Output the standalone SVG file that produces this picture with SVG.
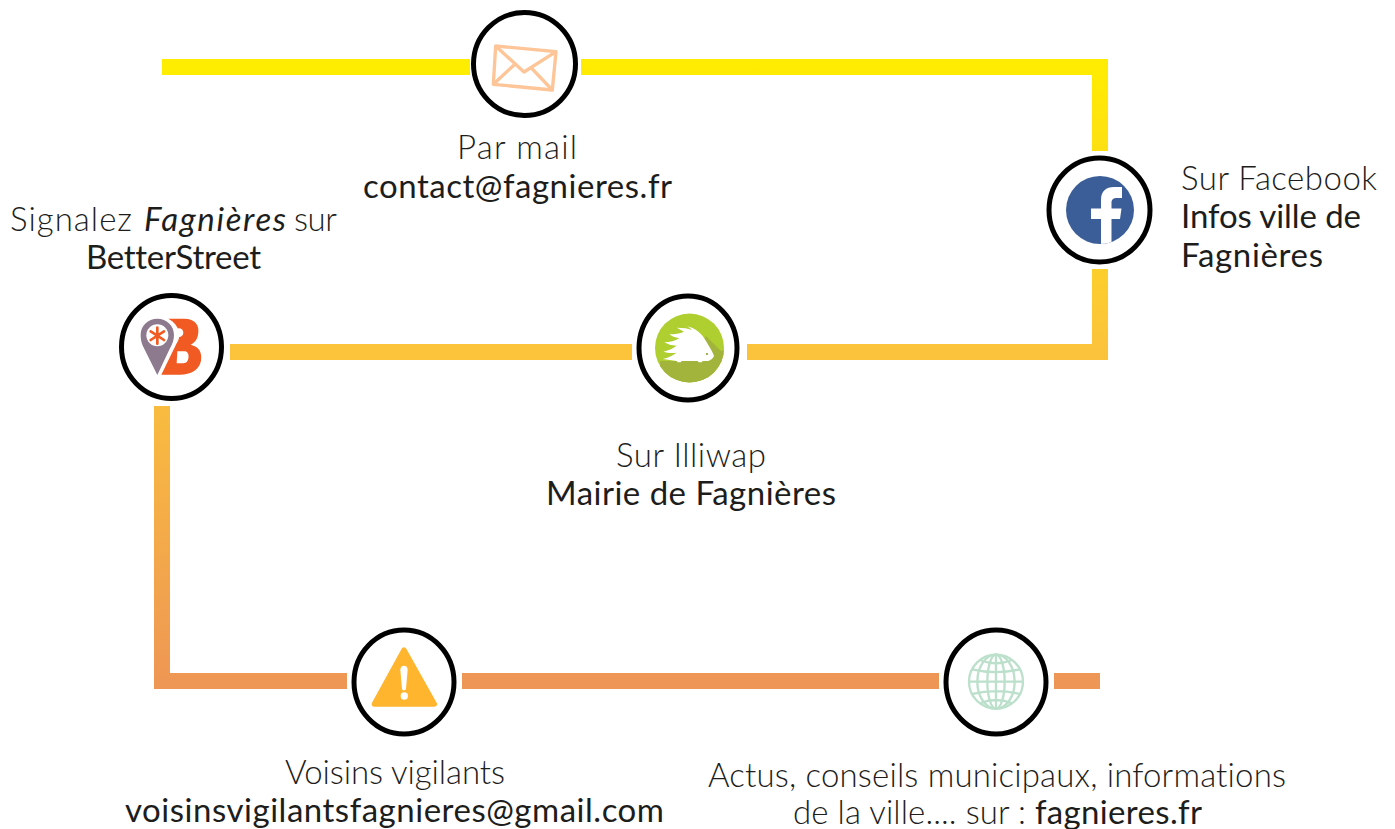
<svg xmlns="http://www.w3.org/2000/svg" width="1395" height="829" viewBox="0 0 1395 829">
<style>
.ring{fill:#fff;stroke:#000;stroke-width:5}
text{font-family:"Lato","Noto Sans",sans-serif;font-size:33px;fill:#1d1d1b;font-weight:300;font-variant-ligatures:none}
.b{font-weight:400}
.i{font-weight:400;font-style:italic}
</style>
<defs>
<linearGradient id="g" gradientUnits="userSpaceOnUse" x1="0" y1="59" x2="0" y2="689">
<stop offset="0" stop-color="#FFED00"/><stop offset="0.45" stop-color="#FBC43A"/><stop offset="1" stop-color="#EE9655"/>
</linearGradient>
<clipPath id="ic"><circle cx="689.5" cy="348" r="34.5"/></clipPath>
<clipPath id="fc"><circle cx="1100" cy="210" r="34"/></clipPath>
</defs>
<g id="connectors">
<rect x="162" y="59" width="308" height="16" fill="#FFED00"/>
<path d="M581 59H1108V151H1092V75H581Z" fill="url(#g)"/>
<path d="M1092 269H1108V360H747V344H1092Z" fill="url(#g)"/>
<rect x="230" y="344" width="402" height="16" fill="#FBC43A"/>
<path d="M154 406H170V673H347V689H154Z" fill="url(#g)"/>
<rect x="462" y="673" width="477" height="16" fill="#EE9655"/>
<rect x="1054" y="673" width="46" height="16" fill="#EE9655"/>
</g>
<g id="node-mail">
<ellipse class="ring" cx="524.5" cy="64" rx="51" ry="51.5"/>
<g transform="translate(460 0) scale(.3333)" fill="none" stroke="#FDC598" stroke-width="10" stroke-linejoin="round">
<path d="M107 138L288 155L277 270L100 253Z"/>
<path d="M107 138L192 216L288 155M100 253L163 194M277 270L213 203"/>
</g>
<text x="517" y="159" text-anchor="middle" textLength="120">Par mail</text>
<text class="b" x="363" y="198" textLength="309">contact@fagnieres.fr</text>
</g>
<g id="node-facebook">
<ellipse class="ring" cx="1099.5" cy="210" rx="50.5" ry="52"/>
<circle cx="1100" cy="210" r="34" fill="#3B5E98"/>
<path clip-path="url(#fc)" d="M1101 250V219H1091V208.500H1101V200C1101 191 1106 187 1114 187H1122V198H1117C1113 198 1111.500 199.500 1111.500 203V208.500H1121.500L1120 219H1111.500V250Z" fill="#fff"/>
<text x="1181" y="190" textLength="196">Sur Facebook</text>
<text class="b" x="1181" y="228" textLength="180">Infos ville de</text>
<text class="b" x="1181" y="267" textLength="142">Fagnières</text>
</g>
<g id="node-betterstreet">
<ellipse class="ring" cx="171.500" cy="347" rx="50" ry="51.500"/>
<g transform="translate(100 280) scale(.3333)">
<path d="M205 116H252C287 116 300 137 294 165C291 180 282 190 272 194C296 200 307 215 303 242C298 270 272 284 240 284H184L230 190C245 170 240 135 205 116Z" fill="#F15A22"/>
<path d="M232 214H255C270 214 270 250 250 250H230Z" fill="#fff"/>
<circle cx="237" cy="158" r="13" fill="#fff"/>
<path d="M172 285L132 205C124 190 122 178 122 165C122 137 144 116 172 116C200 116 222 137 222 165C222 178 218 192 210 205Z" fill="#8E7A8E"/>
<circle cx="172" cy="166" r="33" fill="#fff"/>
<path d="M172 143V191M152 154L192 180M192 154L152 180" stroke="#F15A22" stroke-width="8" stroke-linecap="round" fill="none"/>
</g>
<text x="10" y="231" textLength="122">Signalez</text>
<text class="i" x="144" y="231" textLength="142">Fagnières</text>
<text x="294" y="231" textLength="43">sur</text>
<text class="b" x="86" y="269" textLength="175">BetterStreet</text>
</g>
<g id="node-illiwap">
<ellipse class="ring" cx="688" cy="348" rx="49" ry="52"/>
<circle cx="689.500" cy="348" r="34.500" fill="#AECF2F"/>
<g clip-path="url(#ic)">
<path d="M660 361L700 361L724 350L724 385L660 385Z" fill="#A2B43B"/>
<path d="M706 336L728 358L728 385L700 385L690 361Z" fill="#A2B43B"/>
<g transform="translate(620 285) scale(.3333)">
<path d="M128 222C145 218 158 212 170 203C155 205 140 203 130 200C148 196 160 190 170 182C155 182 143 178 133 172C150 172 165 168 178 160C165 158 155 154 148 148C165 148 180 146 192 140C185 136 178 132 170 128C190 128 205 130 215 135C212 130 207 127 200 124C225 128 245 145 258 168C265 180 275 195 282 212C280 220 270 228 260 228H248L245 232H236L233 228H185L182 232H173L170 228Z" fill="#fff"/>
<circle cx="261" cy="207" r="3" fill="#7D9A1E"/>
</g>
</g>
<text x="616" y="467" textLength="150">Sur Illiwap</text>
<text class="b" x="546" y="505" textLength="290">Mairie de Fagnières</text>
</g>
<g id="node-voisins">
<ellipse class="ring" cx="404" cy="682" rx="50" ry="52"/>
<g transform="translate(340 620) scale(.3333)">
<path d="M192 90L283 252H103Z" fill="#FFB52E" stroke="#FFB52E" stroke-width="16" stroke-linejoin="round"/>
<path d="M181 150C180 133 204 133 203 150L198 206C197 212 187 212 186 206Z" fill="#fff"/>
<circle cx="193" cy="228" r="11" fill="#fff"/>
</g>
<text x="285" y="784" textLength="220">Voisins vigilants</text>
<text class="b" x="125" y="822" textLength="539">voisinsvigilantsfagnieres@gmail.com</text>
</g>
<g id="node-site">
<ellipse class="ring" cx="996" cy="682" rx="50" ry="52"/>
<g transform="translate(930 620) scale(.3333)" fill="none" stroke="#BCE0CB" stroke-width="7">
<circle cx="198" cy="185" r="81"/>
<ellipse cx="198" cy="185" rx="26" ry="81"/>
<ellipse cx="198" cy="185" rx="56" ry="81"/>
<path d="M198 104V266M117 185H279M126 148Q198 165 270 148M126 222Q198 205 270 222M150 120Q198 140 246 120M150 250Q198 230 246 250"/>
</g>
<text x="708" y="787" textLength="578">Actus, conseils municipaux, informations</text>
<text x="793" y="824" textLength="233">de la ville.... sur :</text>
<text class="b" x="1035" y="824" textLength="167">fagnieres.fr</text>
</g>
</svg>
